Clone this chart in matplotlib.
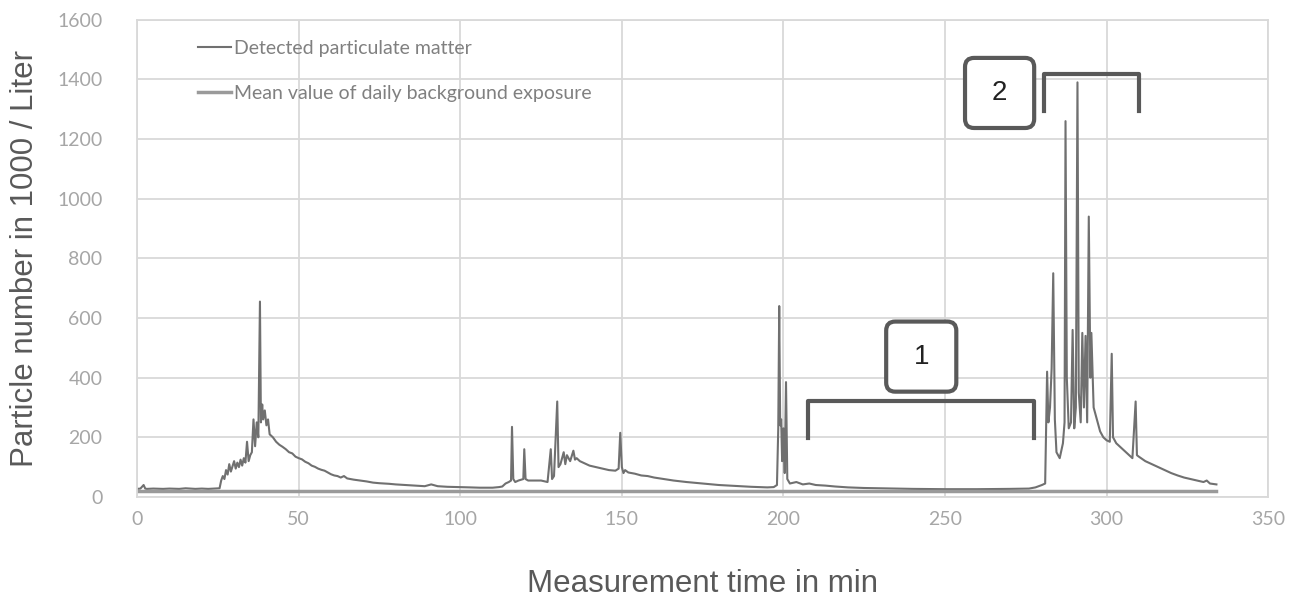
import matplotlib.pyplot as plt
from matplotlib.patches import FancyBboxPatch

# measurement time (min) and detected particle number (1000 / Liter)
time_min = [0, 1, 2, 2.5, 3, 5, 8, 10, 13, 15, 18, 20, 22, 24, 25.5,
            26, 26.5, 27, 27.5, 28, 28.5, 29, 30, 30.5, 31, 31.5, 32, 32.5, 33, 33.5,
            34, 34.5, 35, 35.5, 36, 36.5, 37, 37.5, 38, 38.3, 38.7, 39, 39.5, 40, 40.5,
            41, 42, 43, 44, 45, 46, 47, 48, 49, 50, 51, 52, 53, 54, 55, 56, 57, 58, 59,
            60, 61, 62, 63, 64, 65, 67, 69, 71, 73, 75, 78, 80, 83, 86, 89, 91, 93, 96,
            100, 103, 106, 110, 112, 113, 114, 115, 115.7, 116, 116.4, 117, 118, 119.5,
            119.8, 120.2, 121, 123, 125, 127, 128, 128.4, 129, 130, 130.4, 131, 132,
            132.5, 133, 134, 135, 135.5, 136, 137, 138, 139, 140, 142, 144, 146, 148,
            149, 149.5, 150, 150.5, 151, 152, 154, 156, 158, 160, 163, 166, 170, 175,
            180, 185, 190, 195, 197, 198, 198.4, 198.7, 199, 199.3, 199.6, 200, 200.4,
            200.8, 201.2, 202, 204, 206, 208, 210, 213, 216, 220, 225, 230, 235, 240,
            250, 260, 270, 276, 278, 280, 281, 281.6, 282, 282.5, 283, 283.5, 284,
            284.5, 285.5, 286.5, 287, 287.3, 287.7, 288.3, 289, 289.5, 290, 290.5, 291,
            291.4, 292, 292.5, 293, 293.5, 294, 294.5, 295, 295.3, 296, 297, 298, 299,
            300, 301, 301.6, 302, 303, 304, 305, 306, 307, 308, 309, 309.4, 310, 312,
            314, 316, 318, 320, 322, 324, 326, 328, 330, 331, 332, 334]
particles = [27, 28, 40, 28, 27, 28, 27, 28, 27, 29, 27, 28, 27, 28, 29,
             55, 70, 60, 90, 75, 110, 85, 120, 95, 115, 100, 125, 105, 130, 115,
             185, 120, 140, 150, 260, 170, 250, 200, 655, 250, 310, 260, 290, 240, 260,
             210, 200, 185, 175, 168, 160, 150, 146, 135, 130, 126, 118, 113, 105, 101, 95, 91, 88, 82,
             76, 72, 70, 65, 70, 62, 58, 55, 52, 48, 46, 44, 42, 40, 38, 36, 42, 36, 34,
             33, 32, 31, 31, 33, 35, 45, 50, 55, 235, 60, 50, 55, 60,
             160, 60, 55, 55, 55, 50, 160, 60, 70, 320, 100, 110, 150,
             110, 140, 120, 155, 125, 130, 120, 115, 110, 105, 100, 95, 90, 88,
             95, 215, 100, 80, 90, 82, 78, 72, 70, 65, 60, 55, 50, 45,
             40, 37, 34, 32, 33, 40, 230, 640, 240, 260, 120, 230, 80,
             385, 60, 45, 50, 42, 45, 40, 38, 35, 32, 30, 29, 28, 27,
             26, 26, 27, 28, 32, 40, 45, 420, 250, 300, 430, 750, 260,
             150, 130, 180, 250, 1260, 400, 230, 250, 560, 230, 300, 1390,
             350, 250, 550, 300, 540, 250, 940, 400, 550, 300, 260, 220, 200,
             190, 185, 480, 200, 180, 170, 160, 150, 140, 130, 320, 140, 135, 120,
             110, 100, 90, 80, 72, 65, 60, 55, 50, 55, 45, 42]

# daily background exposure (mean)
mean_time = [0, 334]
mean_value = [20, 20]

fig = plt.figure(figsize=(12.94, 5.98), dpi=100)
ax = fig.add_axes([0.106, 0.169, 0.874, 0.798])

ax.plot(time_min, particles, color='#707070', lw=1.5, label='Detected particulate matter')
ax.plot(mean_time, mean_value, color='#9a9a9a', lw=2.5, label='Mean value of daily background exposure')

ax.set_xlim(0, 350)
ax.set_ylim(0, 1600)
ax.set_xticks(range(0, 351, 50))
ax.set_yticks(range(0, 1601, 200))
ax.grid(True, color='#d9d9d9', lw=1.3)
ax.set_axisbelow(True)
for s in ax.spines.values():
    s.set_color('#d9d9d9')
    s.set_linewidth(1.3)
ax.tick_params(length=0, labelsize=14, labelcolor='#a6a6a6')
ax.tick_params(axis='y', pad=25)
ax.tick_params(axis='x', pad=10)
for lbl in ax.get_xticklabels() + ax.get_yticklabels():
    lbl.set_family('Lato')

ax.set_xlabel('Measurement time in min', fontsize=22.5, color='#595959', labelpad=30,
              family='Liberation Sans')
ax.set_ylabel('Particle number in 1000 / Liter', fontsize=22.5, color='#595959', labelpad=12,
              family='Liberation Sans')

leg = ax.legend(loc='upper left', bbox_to_anchor=(188 / 1294, 1 - 30 / 598),
                bbox_transform=fig.transFigure, frameon=False,
                prop={'family': 'Lato', 'size': 14},
                handlelength=1.7, handletextpad=0.15, labelspacing=1.45, borderpad=0)
for t in leg.get_texts():
    t.set_color('#808080')

# brackets and numbered boxes
dark = '#595959'
ax.plot([207.6, 207.6, 277.7, 277.7], [198, 323, 323, 198], color=dark, lw=3)
ax.plot([280.7, 280.7, 310.1, 310.1], [1293, 1419, 1419, 1293], color=dark, lw=3)

asp = (1600 / 477) / (350 / 1128)
for (x0, x1, y0, y1, txt) in [(231.8, 253.5, 353, 588, '1'), (256.2, 277.6, 1237, 1472, '2')]:
    box = FancyBboxPatch((x0, y0), x1 - x0, y1 - y0,
                         boxstyle='round,pad=0,rounding_size=2.8', mutation_aspect=asp,
                         fc='white', ec=dark, lw=3, zorder=5)
    ax.add_patch(box)
    ax.text((x0 + x1) / 2, (y0 + y1) / 2, txt, ha='center', va='center',
            fontsize=20, color='#222222', family='Liberation Sans', zorder=6)

fig.savefig('out.png', dpi=100)
